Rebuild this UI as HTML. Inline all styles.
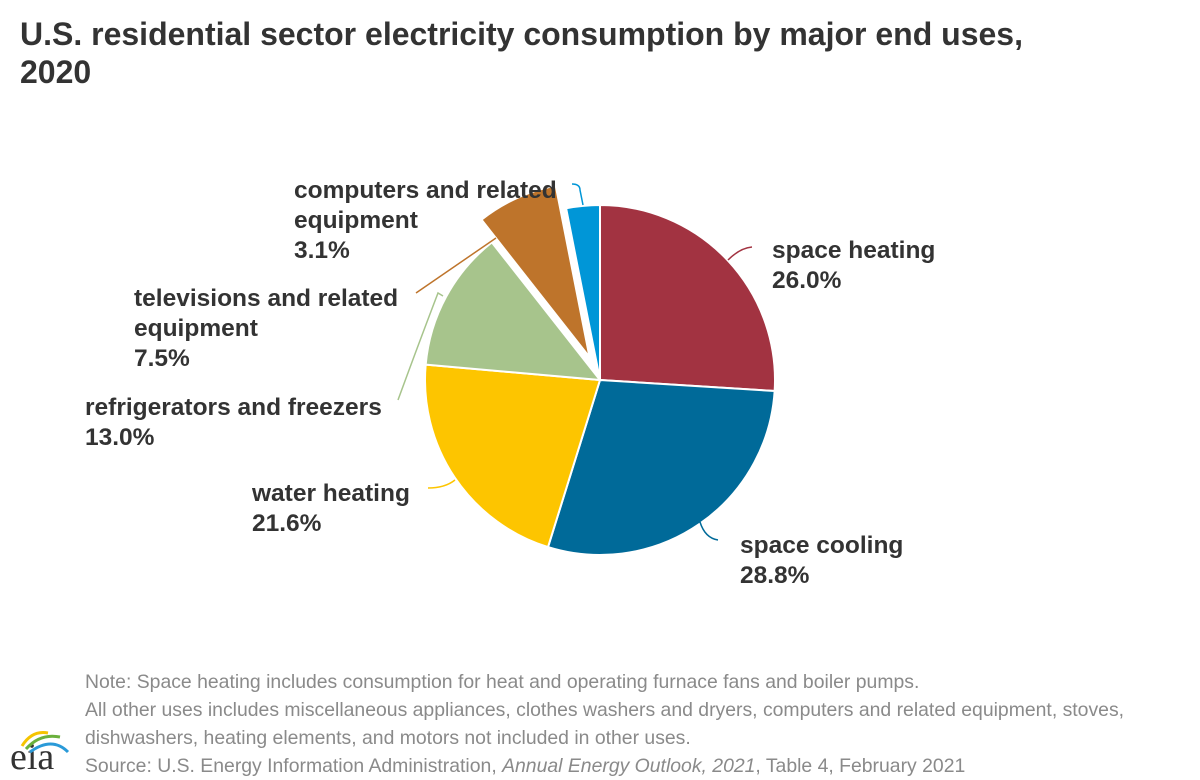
<!DOCTYPE html>
<html><head><meta charset="utf-8"><style>
body{margin:0;width:1200px;height:780px;background:#fff;font-family:"Liberation Sans",Arial,sans-serif;position:relative;overflow:hidden;color:#333}
.t{position:absolute;left:20px;top:15px;font-size:32px;font-weight:bold;line-height:38px;color:#333;white-space:nowrap}
.l{position:absolute;font-size:24.5px;font-weight:bold;line-height:30px;color:#333;white-space:nowrap}
.n{position:absolute;left:85px;font-size:19.4px;color:#8a8a8a;line-height:28px;top:668px;white-space:nowrap}
</style></head><body>
<div class="t">U.S. residential sector electricity consumption by major end uses,<br>2020</div>
<svg id="s" width="1200" height="780" style="position:absolute;left:0;top:0"></svg>
<div class="l" style="left:772px;top:236px">space heating<br>26.0%</div>
<div class="l" style="left:740px;top:531px">space cooling<br>28.8%</div>
<div class="l" style="left:252px;top:479px">water heating<br>21.6%</div>
<div class="l" style="left:85px;top:393px">refrigerators and freezers<br>13.0%</div>
<div class="l" style="left:134px;top:284px">televisions and related<br>equipment<br>7.5%</div>
<div class="l" style="left:294px;top:176px">computers and related<br>equipment<br>3.1%</div>
<div class="n">Note: Space heating includes consumption for heat and operating furnace fans and boiler pumps.<br>All other uses includes miscellaneous appliances, clothes washers and dryers, computers and related equipment, stoves,<br>dishwashers, heating elements, and motors not included in other uses.<br>Source: U.S. Energy Information Administration, <i>Annual Energy Outlook, 2021</i>, Table 4, February 2021</div>
<div style="position:absolute;left:10px;top:740px;font-family:'Liberation Serif',serif;font-size:38px;color:#333;line-height:34px">eia</div>
<svg width="70" height="30" style="position:absolute;left:8px;top:724px">
<path d="M14 22 Q24 6 40 9" stroke="#f5c400" stroke-width="3" fill="none"/>
<path d="M18 25 Q32 9 52 13" stroke="#6ab03c" stroke-width="3" fill="none"/>
<path d="M22 28 Q44 12 60 28" stroke="#2a9ad8" stroke-width="3" fill="none"/>
</svg>
<script>
var s=document.getElementById('s'),cx=600,cy=380,r=175;
var d=[[26,'#a23341',0],[28.8,'#006a99',0],[21.6,'#fdc500',0],[13,'#a7c48c',0],[7.5,'#be742b',25],[3.1,'#0096d7',0]];
var a=0,h='';
d.forEach(function(e){var a0=a*3.6*Math.PI/180;a+=e[0];var a1=a*3.6*Math.PI/180;var m=(a0+a1)/2;
var ox=cx+e[2]*Math.sin(m),oy=cy-e[2]*Math.cos(m);
var x0=ox+r*Math.sin(a0),y0=oy-r*Math.cos(a0),x1=ox+r*Math.sin(a1),y1=oy-r*Math.cos(a1);
h+='<path d="M'+ox+' '+oy+'L'+x0+' '+y0+'A'+r+' '+r+' 0 '+((a1-a0)>Math.PI?1:0)+' 1 '+x1+' '+y1+'Z" fill="'+e[1]+'" stroke="#fff" stroke-width="2"/>';});
h+='<path d="M728 260 Q740 248 752 247" stroke="#a23341" stroke-width="1.5" fill="none"/>';
h+='<path d="M700 522 Q705 538 718 540" stroke="#006a99" stroke-width="1.5" fill="none"/>';
h+='<path d="M455 480 Q445 488 428 488" stroke="#fdc500" stroke-width="1.5" fill="none"/>';
h+='<path d="M443 296 L438 293 Q420 340 398 400" stroke="#a7c48c" stroke-width="1.5" fill="none"/>';
h+='<path d="M496 238 L416 293" stroke="#be742b" stroke-width="1.5" fill="none"/>';
h+='<path d="M583 205 L580 190 Q580 184 572 184" stroke="#0096d7" stroke-width="1.5" fill="none"/>';
s.innerHTML=h;
</script>
</body></html>
